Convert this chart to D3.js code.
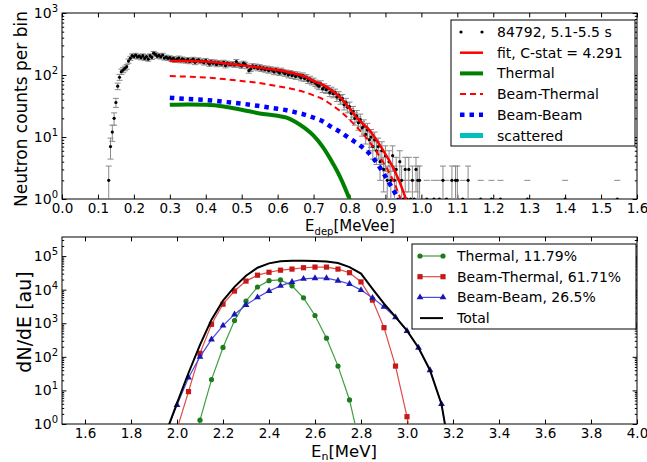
<!DOCTYPE html>
<html>
<head>
<meta charset="utf-8">
<script src="https://cdn.jsdelivr.net/npm/d3@7"></script>
<style>
  body { margin: 0; background: #fff; }
  svg text { font-family: "DejaVu Sans", sans-serif; fill: #000; font-size: 14px; }
  svg .axis text { font-size: 13.5px; }
</style>
</head>
<body>
<svg id="chart" width="647" height="462"></svg>
<script>
'use strict';

// ---- upper panel: measured spectrum (counts per 0.005 MeVee bin) ----
const BIN_START = 0.13;
const BIN_STEP = 0.005;
const binCounts = [
  2, 7, 12, 20, 36, 66, 92, 113, 120, 128,
  136, 168, 186, 205, 198, 210, 195, 202, 190, 205,
  185, 198, 180, 205, 192, 225, 215, 200, 208, 195,
  210, 188, 195, 185, 190, 178, 185, 172, 180, 188,
  170, 182, 175, 168, 178, 165, 172, 180, 160, 170,
  176, 165, 168, 158, 172, 160, 150, 165, 155, 162,
  148, 158, 152, 150, 160, 142, 155, 150, 148, 152,
  145, 165, 150, 145, 140, 155, 148, 138, 118, 125,
  140, 132, 138, 128, 135, 125, 130, 122, 128, 118,
  125, 120, 112, 122, 115, 108, 118, 112, 105, 110,
  100, 108, 98, 104, 95, 102, 96, 90, 98, 88,
  92, 82, 86, 78, 80, 74, 70, 66, 72, 60,
  64, 58, 60, 52, 56, 50, 52, 44, 47, 40,
  42, 33, 36, 30, 31, 24, 26, 20, 22, 17,
  19, 14, 15, 11, 13, 9, 10, 7, 9, 6,
  7, 4, 6, 3, 5, 2, 4, 2, 5, 2,
  3, 1, 4, 2, 1, 3, 1, 3, 1, 2,
  1, 3, 2, 2
];
const binErrors = [
  1.4, 2.6, 3.5, 4.5, 6, 8, 10, 11, 11, 11,
  12, 13, 14, 14, 14, 14, 14, 14, 14, 14,
  14, 14, 13, 14, 14, 15, 15, 14, 14, 14,
  14, 14, 14, 14, 14, 13, 14, 13, 13, 14,
  13, 13, 13, 13, 13, 13, 13, 13, 13, 13,
  13, 13, 13, 13, 13, 13, 12, 13, 12, 13,
  12, 13, 12, 12, 13, 12, 12, 12, 12, 12,
  12, 13, 12, 12, 12, 12, 12, 12, 11, 11,
  12, 11, 12, 11, 12, 11, 11, 11, 11, 11,
  11, 11, 11, 11, 11, 10, 11, 11, 10, 10,
  10, 10, 10, 10, 10, 10, 10, 9.5, 10, 9.4,
  9.6, 9, 9.3, 8.8, 9, 8.6, 8.4, 8.1, 8.5, 7.7,
  8, 7.6, 7.7, 7.2, 7.5, 7.1, 7.2, 6.6, 6.9, 6.3,
  6.5, 5.7, 6, 5.5, 5.6, 4.9, 5.1, 4.5, 4.7, 4.1,
  4.4, 3.7, 3.9, 3.3, 3.6, 3, 3.2, 2.6, 3, 2.4,
  2.6, 2, 2.4, 1.7, 2.2, 1.4, 2, 1.4, 2.2, 1.4,
  1.7, 1, 2, 1.4, 1, 1.7, 1, 1.7, 1, 1.4,
  1, 1.7, 1.4, 1.4
];
// sparse non-empty bins above 1 MeVee
const tailEnergy = [1.015, 1.035, 1.05, 1.06, 1.07, 1.085, 1.095, 1.10, 1.115, 1.13, 1.165, 1.195, 1.22, 1.295, 1.40, 1.545];
const tailCounts = [1, 1, 1, 2, 1, 2, 2, 2, 1, 2, 1, 1, 1, 1, 1, 1];
const tailErrors = [1, 1, 1, 1.4, 1, 1.4, 1.4, 1.4, 1, 1.4, 1, 1, 1, 1, 1, 1];

// fit components
const fitEnergy = [0.30, 0.35, 0.40, 0.45, 0.50, 0.55, 0.60, 0.625, 0.65, 0.675, 0.70, 0.725, 0.75, 0.775, 0.80, 0.825, 0.85, 0.875, 0.90, 0.925, 0.95, 0.975];
const fitTotal    = [168, 168, 165, 155, 143, 132, 120, 113, 105, 95, 80, 70, 57, 43, 29, 19, 14, 9, 5.3, 2.9, 1.3, 0.45];
const fitThermal  = [33, 33.5, 33, 31, 27.5, 24, 22, 20.5, 17.5, 14, 10.5, 7, 4.1, 2.2, 1.0, 0.4, null, null, null, null, null, null];
const fitBeamTh   = [96, 94, 91, 86, 80, 74, 66, 62, 58, 53, 47, 41, 33, 26, 19, 13.5, 9.2, 5.8, 3.4, 1.8, 0.75, null];
const fitBeamBeam = [43, 41, 39.5, 37, 34.5, 31.5, 28.5, 27, 25, 23, 20.5, 18, 14.5, 12, 9.5, 7.6, 5.8, 3.9, 2.3, 1.3, 0.7, null];

const upperLegend = ['84792, 5.1-5.5 s', 'fit, C-stat = 4.291', 'Thermal', 'Beam-Thermal', 'Beam-Beam', 'scattered'];
const upperTicksX = [0.0, 0.1, 0.2, 0.3, 0.4, 0.5, 0.6, 0.7, 0.8, 0.9, 1.0, 1.1, 1.2, 1.3, 1.4, 1.5, 1.6];

// ---- lower panel: neutron energy spectra ----
const enGrid = [1.95, 2.00, 2.05, 2.10, 2.15, 2.20, 2.25, 2.30, 2.35, 2.40, 2.45, 2.50, 2.55, 2.60, 2.65, 2.70, 2.75, 2.80, 2.85, 2.90, 2.95, 3.00, 3.05, 3.10, 3.15, 3.20];
const enThermal   = [null, null, 0.02, 1.3, 21, 190, 1200, 4600, 12000, 18500, 19500, 13000, 5700, 1700, 360, 53, 5.2, 0.17, null, null, null, null, null, null, null, null];
const enBeamTh    = [null, 0.7, 9.2, 127, 930, 3700, 9100, 18000, 27000, 33000, 38000, 41000, 45000, 47000, 47000, 41000, 32000, 17000, 4900, 740, 53, 1.65, 0.03, null, null, null];
const enBeamBeam  = [0.5, 3.7, 24, 100, 330, 850, 1830, 3500, 5900, 9100, 13000, 17000, 21000, 22000, 22000, 18500, 14700, 9700, 5700, 3100, 1500, 590, 186, 40, 3.9, 0.04];
const enTotal     = [0.5, 4.2, 33, 228, 1280, 4740, 12100, 26100, 44900, 60600, 70500, 72000, 72000, 71000, 69000, 62000, 47000, 30000, 10600, 3840, 1550, 600, 186, 40, 3.9, 0.04];

const lowerLegend = ['Thermal, 11.79%', 'Beam-Thermal, 61.71%', 'Beam-Beam, 26.5%', 'Total'];
const lowerTicksX = [1.6, 1.8, 2.0, 2.2, 2.4, 2.6, 2.8, 3.0, 3.2, 3.4, 3.6, 3.8, 4.0];

const LEFT = 62, RIGHT = 637;
const svg = d3.select('#chart');

const xDep = d3.scaleLinear().domain([0, 1.6]).range([LEFT, RIGHT]);
const yDep = d3.scaleLog().domain([1, 1000]).range([199, 13]);
const xEn = d3.scaleLinear().domain([1.5, 4.0]).range([LEFT, RIGHT]);
const yEn = d3.scaleLog().domain([1, 3.7e5]).range([424, 237]);

function minorTicks(y) {
  const [lo, hi] = y.domain();
  const out = [];
  for (let p = Math.floor(Math.log10(lo)); p <= Math.ceil(Math.log10(hi)); p++) {
    for (let m = 2; m <= 9; m++) {
      const v = m * Math.pow(10, p);
      if (v > lo && v < hi) out.push(v);
    }
  }
  return out;
}

function drawFrame(g, x, y, xTicks, decades) {
  const [y1, y0] = y.range();
  const fmt = d3.format('.1f');
  const minors = minorTicks(y);

  g.append('g').attr('class', 'axis').attr('transform', `translate(0,${y1})`)
    .call(d3.axisBottom(x).tickValues(xTicks).tickSizeInner(-4.4).tickSizeOuter(0).tickPadding(4).tickFormat(fmt));
  g.append('g').attr('class', 'axis').attr('transform', `translate(0,${y0})`)
    .call(d3.axisTop(x).tickValues(xTicks).tickSizeInner(-4.4).tickSizeOuter(0).tickFormat(''));
  [[d3.axisLeft, LEFT], [d3.axisRight, RIGHT]].forEach(([mk, pos]) => {
    g.append('g').attr('class', 'axis').attr('transform', `translate(${pos},0)`)
      .call(mk(y).tickValues(decades.map((p) => Math.pow(10, p))).tickSizeInner(-4.4).tickSizeOuter(0).tickFormat(''));
    g.append('g').attr('class', 'axis').attr('transform', `translate(${pos},0)`)
      .call(mk(y).tickValues(minors).tickSizeInner(-2.2).tickSizeOuter(0).tickFormat(''));
  });
  g.selectAll('.axis .domain').remove();
  g.selectAll('.axis').attr('font-family', null).attr('font-size', null);

  decades.forEach((p) => {
    const t = g.append('text')
      .attr('x', LEFT - 4)
      .attr('y', y(Math.pow(10, p)) + 5)
      .attr('text-anchor', 'end');
    t.append('tspan').text('10');
    t.append('tspan').attr('dy', -6).style('font-size', '10px').text(p);
  });

  g.append('rect')
    .attr('x', LEFT).attr('y', y0)
    .attr('width', RIGHT - LEFT).attr('height', y1 - y0)
    .attr('fill', 'none').attr('stroke', '#000').attr('stroke-width', 1);
}

function clipFor(id, y) {
  const [y1, y0] = y.range();
  svg.append('defs').append('clipPath').attr('id', id)
    .append('rect').attr('x', LEFT).attr('y', y0).attr('width', RIGHT - LEFT).attr('height', y1 - y0);
  return svg.append('g').attr('clip-path', `url(#${id})`);
}

// ================= upper panel =================
const upper = svg.append('g');
const upperPlot = clipFor('clip-upper', yDep);

const points = binCounts.map((c, i) => ({ e: BIN_START + i * BIN_STEP, c, err: binErrors[i] }))
  .concat(tailEnergy.map((e, i) => ({ e, c: tailCounts[i], err: tailErrors[i] })));

const bars = upperPlot.append('g').attr('stroke', '#8a8a8a').attr('stroke-width', 1);
points.forEach((p) => {
  const px = xDep(p.e);
  const lo = p.c - p.err;
  const hi = p.c + p.err;
  if (lo > 0) {
    bars.append('line').attr('x1', px).attr('x2', px).attr('y1', yDep(lo)).attr('y2', yDep(hi));
    bars.append('line').attr('x1', px - 3).attr('x2', px + 3).attr('y1', yDep(lo)).attr('y2', yDep(lo));
  }
  bars.append('line').attr('x1', px - 3).attr('x2', px + 3).attr('y1', yDep(hi)).attr('y2', yDep(hi));
});

upperPlot.append('g').selectAll('circle')
  .data(points)
  .join('circle')
  .attr('cx', (d) => xDep(d.e))
  .attr('cy', (d) => yDep(d.c))
  .attr('r', 1.6)
  .attr('fill', '#000');

const fitLine = d3.line()
  .defined((d) => d[1] !== null)
  .x((d) => xDep(d[0]))
  .y((d) => yDep(d[1]))
  .curve(d3.curveMonotoneX);

const upperStyles = [
  { values: fitThermal, color: '#008000', width: 4, dash: null },
  { values: fitBeamTh, color: '#ff0000', width: 2, dash: '6,4' },
  { values: fitBeamBeam, color: '#0000ff', width: 4.5, dash: '4.5,5' },
  { values: fitTotal, color: '#ff0000', width: 2.5, dash: null }
];
upperStyles.forEach((s) => {
  upperPlot.append('path')
    .datum(fitEnergy.map((e, i) => [e, s.values[i]]))
    .attr('d', fitLine)
    .attr('fill', 'none')
    .attr('stroke', s.color)
    .attr('stroke-width', s.width)
    .attr('stroke-dasharray', s.dash);
});

drawFrame(upper, xDep, yDep, upperTicksX, [0, 1, 2, 3]);

upper.append('text')
  .attr('transform', 'translate(27,109) rotate(-90)')
  .attr('text-anchor', 'middle')
  .style('font-size', '17px')
  .text('Neutron counts per bin');

const xl1 = upper.append('text')
  .attr('x', 350).attr('y', 231)
  .attr('text-anchor', 'middle')
  .style('font-size', '15px');
xl1.append('tspan').text('E');
xl1.append('tspan').attr('dy', 4).style('font-size', '10px').text('dep');
xl1.append('tspan').attr('dy', -4).text('[MeVee]');

// legend (upper)
const lg1 = upper.append('g');
lg1.append('rect').attr('x', 451).attr('y', 20).attr('width', 184).attr('height', 126)
  .attr('fill', '#fff').attr('stroke', '#000').attr('stroke-width', 1);
const upperHandles = [
  { kind: 'dots' },
  { color: '#ff0000', width: 2.5, dash: null },
  { color: '#008000', width: 4, dash: null },
  { color: '#ff0000', width: 2, dash: '6,4' },
  { color: '#0000ff', width: 4.5, dash: '4.5,5' },
  { color: '#00bfbf', width: 5, dash: null }
];
upperLegend.forEach((label, i) => {
  const cy = 32 + i * 20.7;
  const h = upperHandles[i];
  if (h.kind === 'dots') {
    [461, 482].forEach((cx) => lg1.append('circle').attr('cx', cx).attr('cy', cy).attr('r', 1.6).attr('fill', '#000'));
  } else {
    lg1.append('line').attr('x1', 460).attr('x2', 483).attr('y1', cy).attr('y2', cy)
      .attr('stroke', h.color).attr('stroke-width', h.width).attr('stroke-dasharray', h.dash);
  }
  lg1.append('text').attr('x', 497).attr('y', cy + 5).text(label);
});

// ================= lower panel =================
const lower = svg.append('g');
const lowerPlot = clipFor('clip-lower', yEn);

const enLine = d3.line()
  .defined((d) => d[1] !== null)
  .x((d) => xEn(d[0]))
  .y((d) => yEn(d[1]));

const lowerSeries = [
  { values: enThermal, line: '#3f9f3f', mark: '#1c7c1c', shape: 'circle' },
  { values: enBeamTh, line: '#e04848', mark: '#c81818', shape: 'square' },
  { values: enBeamBeam, line: '#4848e8', mark: '#1818b0', shape: 'triangle' },
  { values: enTotal, line: '#000', mark: null, shape: null }
];

function drawMarker(g, shape, cx, cy, color) {
  if (shape === 'circle') {
    g.append('circle').attr('cx', cx).attr('cy', cy).attr('r', 2.6).attr('fill', color);
  } else if (shape === 'square') {
    g.append('rect').attr('x', cx - 2.6).attr('y', cy - 2.6).attr('width', 5.2).attr('height', 5.2).attr('fill', color);
  } else if (shape === 'triangle') {
    g.append('path').attr('d', d3.symbol(d3.symbolTriangle, 20)()).attr('transform', `translate(${cx},${cy})`).attr('fill', color);
  }
}

lowerSeries.forEach((s) => {
  const pts = enGrid.map((e, i) => [e, s.values[i]]);
  lowerPlot.append('path')
    .datum(pts)
    .attr('d', enLine)
    .attr('fill', 'none')
    .attr('stroke', s.line)
    .attr('stroke-width', s.shape ? 1.2 : 2);
  if (s.shape) {
    const mg = lowerPlot.append('g');
    pts.filter((d) => d[1] !== null).forEach((d) => drawMarker(mg, s.shape, xEn(d[0]), yEn(d[1]), s.mark));
  }
});

drawFrame(lower, xEn, yEn, lowerTicksX, [0, 1, 2, 3, 4, 5]);

lower.append('text')
  .attr('transform', 'translate(31,322) rotate(-90)')
  .attr('text-anchor', 'middle')
  .style('font-size', '19px')
  .text('dN/dE [au]');

const xl2 = lower.append('text')
  .attr('x', 344).attr('y', 457)
  .attr('text-anchor', 'middle')
  .style('font-size', '16.5px');
xl2.append('tspan').text('E');
xl2.append('tspan').attr('dy', 3).style('font-size', '11px').text('n');
xl2.append('tspan').attr('dy', -3).text('[MeV]');

// legend (lower)
const lg2 = lower.append('g');
lg2.append('rect').attr('x', 412).attr('y', 244).attr('width', 224).attr('height', 85)
  .attr('fill', '#fff').attr('stroke', '#000').attr('stroke-width', 1);
lowerLegend.forEach((label, i) => {
  const cy = 256 + i * 20.7;
  const s = lowerSeries[i];
  lg2.append('line').attr('x1', 420).attr('x2', 443).attr('y1', cy).attr('y2', cy)
    .attr('stroke', s.line).attr('stroke-width', s.shape ? 1.2 : 2);
  if (s.shape) {
    drawMarker(lg2, s.shape, 420, cy, s.mark);
    drawMarker(lg2, s.shape, 443, cy, s.mark);
  }
  lg2.append('text').attr('x', 457).attr('y', cy + 5).text(label);
});
</script>
</body>
</html>
